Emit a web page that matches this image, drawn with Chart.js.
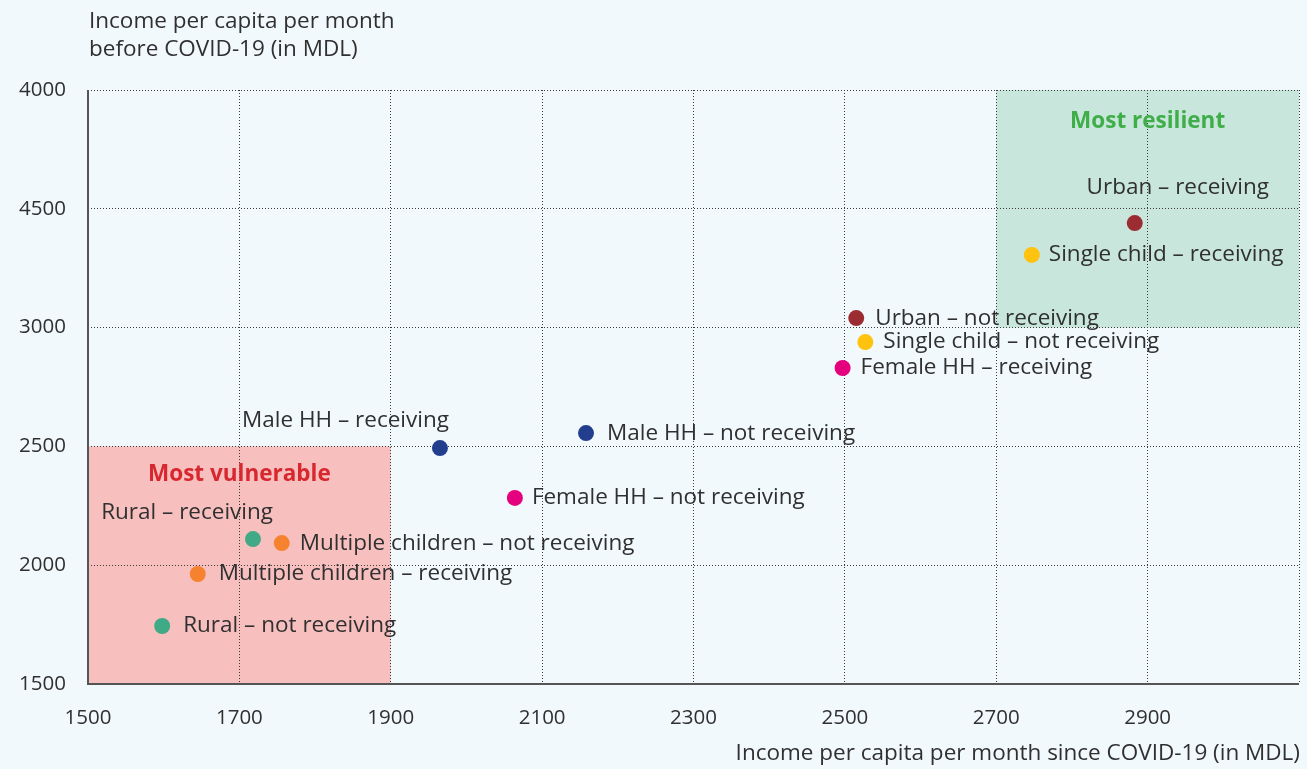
<!DOCTYPE html>
<html>
<head>
<meta charset="utf-8">
<script src="https://cdn.jsdelivr.net/npm/chart.js@4.4.0/dist/chart.umd.min.js"></script>
<style>
  html, body { margin: 0; padding: 0; background: #f2f9fc; }
  #wrap { width: 1307px; height: 769px; }
</style>
</head>
<body>
<div id="wrap"><canvas id="scatterChart"></canvas></div>
<script>
// groups as shown on the chart
const groups = [
  "Urban – receiving",
  "Single child – receiving",
  "Urban – not receiving",
  "Single child – not receiving",
  "Female HH – receiving",
  "Male HH – not receiving",
  "Male HH – receiving",
  "Female HH – not receiving",
  "Rural – receiving",
  "Multiple children – not receiving",
  "Multiple children – receiving",
  "Rural – not receiving"
];
// income since COVID-19 (x) and before COVID-19 (y), MDL
const incomeSince = [2883, 2747, 2515, 2527, 2497, 2158, 1965, 2064, 1718, 1756, 1645, 1598];
const incomeBefore = [3440, 3306, 3040, 2939, 2830, 2556, 2493, 2283, 2110, 2093, 1963, 1744];
const dotColors = [
  "#9b2c31", "#ffc20e", "#9b2c31", "#ffc20e", "#e5007d", "#233e8c",
  "#233e8c", "#e5007d", "#40a986", "#f5822f", "#f5822f", "#40a986"
];
const xTickLabels = ["1500", "1700", "1900", "2100", "2300", "2500", "2700", "2900"];
const yTickLabels = ["1500", "2000", "2500", "3000", "4500", "4000"];

// label placement: [dx, dy, align] relative to the dot
const labelPlace = [
  [43, -35, "center"], [17, 0, "left"], [19, 0, "left"], [18, 0, "left"],
  [18, 0, "left"], [21, 0, "left"], [9, -27, "right"], [17, 0, "left"],
  [20, -26, "right"], [18, 0, "left"], [21, 0, "left"], [21, 0, "left"]
];

const FONT = "'Open Sans', 'Noto Sans', sans-serif";
const TEXT = "#303030";
const FS = 22.5;

const zonesPlugin = {
  id: "zones",
  beforeDraw(chart) {
    const c = chart.ctx;
    const x = chart.scales.x;
    const y = chart.scales.y;
    c.save();
    c.fillStyle = "#f2f9fc";
    c.fillRect(0, 0, chart.width, chart.height);
    // most vulnerable
    c.fillStyle = "#f8bfbf";
    c.fillRect(x.getPixelForValue(1500), y.getPixelForValue(2500),
      x.getPixelForValue(1900) - x.getPixelForValue(1500),
      y.getPixelForValue(1500) - y.getPixelForValue(2500));
    // most resilient
    c.fillStyle = "#c8e6dc";
    c.fillRect(x.getPixelForValue(2700), y.getPixelForValue(4000),
      x.getPixelForValue(3100) - x.getPixelForValue(2700),
      y.getPixelForValue(3000) - y.getPixelForValue(4000));
    c.restore();
  },
  afterDatasetsDraw(chart) {
    const c = chart.ctx;
    const x = chart.scales.x;
    const y = chart.scales.y;
    const area = chart.chartArea;
    c.save();
    // solid axis lines
    c.strokeStyle = "#555555";
    c.lineWidth = 2;
    c.beginPath();
    c.moveTo(area.left, area.top);
    c.lineTo(area.left, area.bottom);
    c.lineTo(area.right, area.bottom);
    c.stroke();

    c.textBaseline = "middle";
    c.font = "bold " + FS + "px " + FONT;
    c.textAlign = "center";
    c.fillStyle = "#d7272f";
    c.fillText("Most vulnerable", x.getPixelForValue(1700), y.getPixelForValue(2500) + 28);
    c.fillStyle = "#3fae49";
    c.fillText("Most resilient", x.getPixelForValue(2900), y.getPixelForValue(4000) + 32);

    // dot labels
    const meta = chart.getDatasetMeta(0);
    c.font = FS + "px " + FONT;
    c.fillStyle = TEXT;
    meta.data.forEach((pt, i) => {
      const p = labelPlace[i];
      c.textAlign = p[2];
      c.fillText(groups[i], pt.x + p[0], pt.y + p[1]);
    });

    // axis titles
    c.textAlign = "left";
    c.fillText("Income per capita per month", 89, 22);
    c.fillText("before COVID-19 (in MDL)", 89, 50);
    c.textAlign = "right";
    c.fillText("Income per capita per month since COVID-19 (in MDL)", 1300, 754);
    c.restore();
  }
};

const ctx = document.getElementById("scatterChart");
// eslint-disable-next-line no-unused-vars
const scatterChart = new Chart(ctx, {
  type: "scatter",
  data: {
    datasets: [
      {
        data: incomeSince.map((v, i) => ({ x: v, y: incomeBefore[i] })),
        backgroundColor: dotColors,
        borderWidth: 0,
        pointRadius: 8,
        pointHoverRadius: 8
      }
    ]
  },
  options: {
    responsive: true,
    maintainAspectRatio: false,
    animation: false,
    layout: { padding: { top: 90, right: 1, left: 0, bottom: 0 } },
    plugins: {
      legend: { display: false },
      tooltip: { enabled: false }
    },
    scales: {
      x: {
        type: "linear",
        min: 1500,
        max: 3100,
        afterBuildTicks: (s) => {
          s.ticks = [];
          for (let v = 1500; v <= 3100; v += 200) s.ticks.push({ value: v });
        },
        afterFit: (s) => {
          s.height = 85;
          s.paddingRight = 0;
          s.paddingLeft = 0;
        },
        ticks: {
          color: TEXT,
          font: { family: FONT, size: 20.5 },
          padding: 22,
          maxRotation: 0,
          autoSkip: false,
          callback: (v) => xTickLabels.includes(String(v)) ? String(v) : ""
        },
        grid: {
          color: "#3a3a3a",
          lineWidth: 1,
          drawTicks: false
        },
        border: { display: false, color: "#3a3a3a", dash: [1, 2] }
      },
      y: {
        type: "linear",
        min: 1500,
        max: 4000,
        afterBuildTicks: (s) => {
          s.ticks = [];
          for (let v = 1500; v <= 4000; v += 500) s.ticks.push({ value: v });
        },
        afterFit: (s) => {
          s.width = 88;
          s.paddingTop = 0;
          s.paddingBottom = 0;
        },
        ticks: {
          color: TEXT,
          font: { family: FONT, size: 20.5 },
          padding: 22,
          autoSkip: false,
          callback: (v, i) => yTickLabels[i]
        },
        grid: {
          color: "#3a3a3a",
          lineWidth: 1,
          drawTicks: false
        },
        border: { display: false, color: "#3a3a3a", dash: [1, 2] }
      }
    }
  },
  plugins: [zonesPlugin]
});
</script>
</body>
</html>
